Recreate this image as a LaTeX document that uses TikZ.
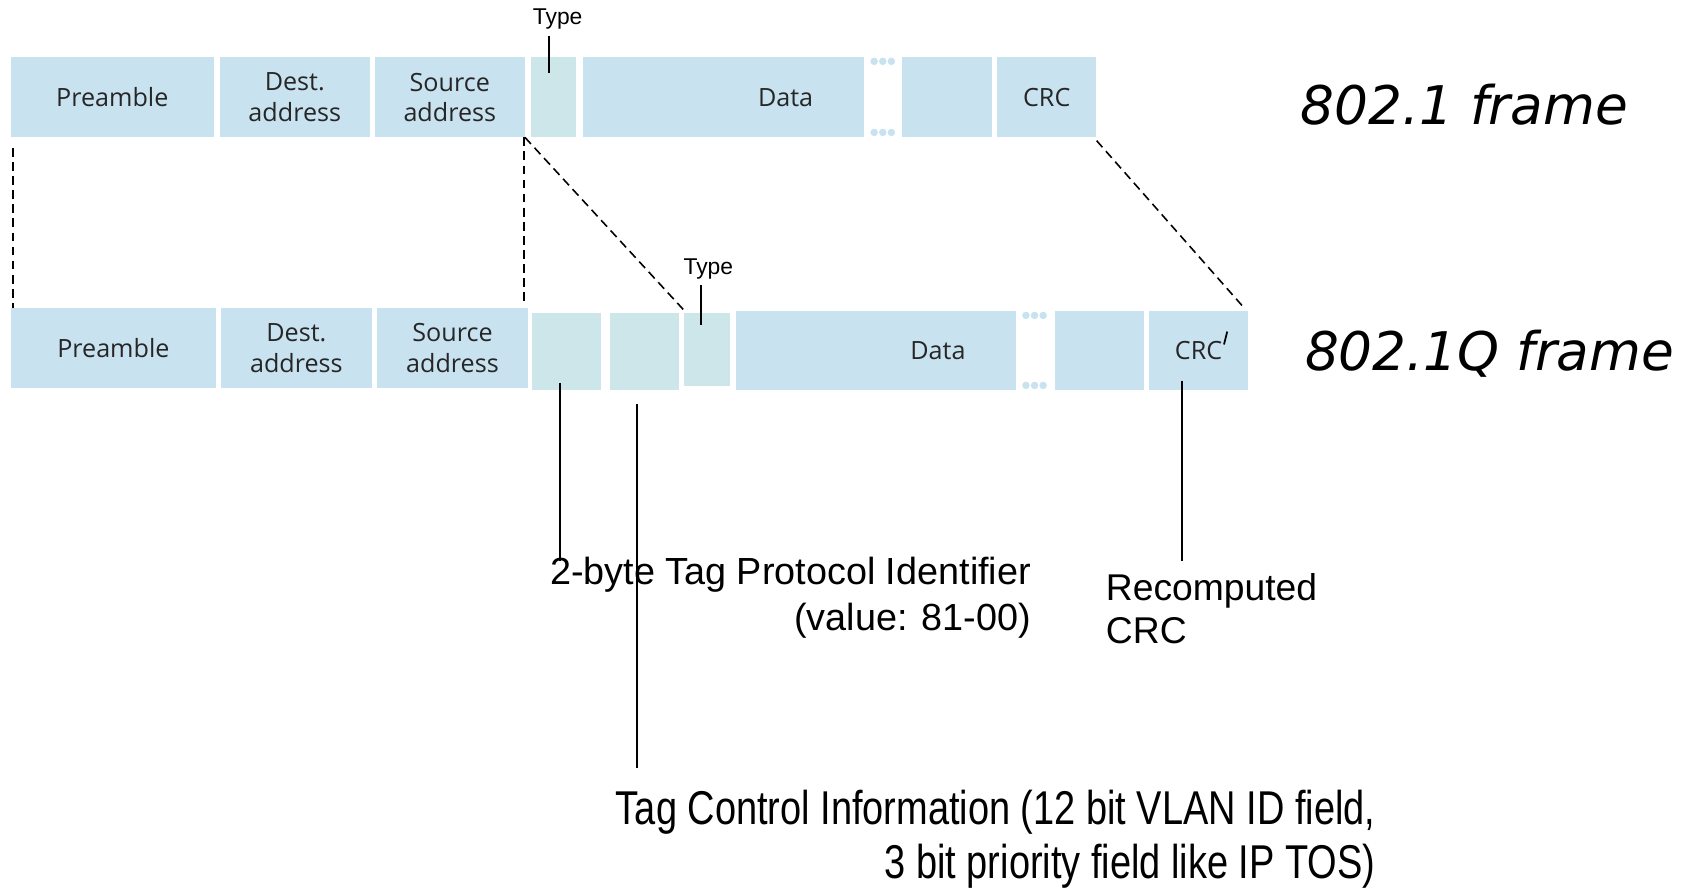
\documentclass[tikz,border=0pt]{standalone}
\usepackage{fontspec}
\usepackage{graphicx}
\newfontfamily\boxfont{Open Sans}
\newfontfamily\arialfont{Liberation Sans}
\newfontfamily\dvfont{DejaVu Sans}
\definecolor{fblue}{RGB}{201,226,240}
\definecolor{fteal}{RGB}{205,230,234}
\definecolor{ftext}{RGB}{38,38,38}
\newcommand\fld[7]{\node[#6, anchor=north west, minimum width={(#3-#2)*0.02153cm}, minimum height={(#5-#4)*0.02153cm}] (#1) at (#2,#4) {#7};}
\begin{document}
\begin{tikzpicture}[x=0.02153cm, y=-0.02153cm,
  bfld/.style={fill=fblue, draw=none, inner sep=0pt, text=ftext, align=center,
    font=\boxfont\fontsize{14.3}{17.2}\selectfont},
  tfld/.style={bfld, fill=fteal},
  typelbl/.style={inner sep=0pt, font=\arialfont\fontsize{13}{15}\selectfont},
  ttl/.style={inner sep=0pt, anchor=base west, font=\dvfont\itshape\fontsize{30.3}{36}\selectfont},
  note/.style={inner sep=0pt, font=\arialfont\fontsize{21.5}{26.3}\selectfont},
  lead/.style={line width=1.2pt, black},
  dsh/.style={line width=0.9pt, black, dash pattern=on 5pt off 3pt},
  dotc/.style={fill=fblue}]
\useasboundingbox (0,0) rectangle (1568,824);

% ---- 802.1 frame ----
\fld{pre1}{10}{198}{53}{127}{bfld}{Preamble}
\fld{dst1}{204}{343}{53}{127}{bfld}{Dest.\\address}
\fld{src1}{348}{487}{53}{127}{bfld}{Source\\address}
\fld{typ1}{493}{535}{53}{127}{tfld}{}
\fld{dat1}{541}{802}{53}{127}{bfld}{\hspace*{71pt}Data}
\fld{ext1}{838}{921}{53}{127}{bfld}{}
\fld{crc1}{926}{1018}{53}{127}{bfld}{CRC}
\foreach \xx in {812,820,828} {
  \fill[dotc] (\xx,57) circle [radius=0.075cm];
  \fill[dotc] (\xx,123) circle [radius=0.075cm];
}
\node[typelbl, anchor=base] (typlbl1) at (518,23) {Type};
\draw[lead] ([shift={(-4,-20)}]typ1.north) -- ++(0,35);
\node[ttl] (ttl1) at (1208,116) {802.1 frame};

% ---- 802.1Q frame ----
\fld{pre2}{10}{200}{286}{360}{bfld}{Preamble}
\fld{dst2}{205}{345}{286}{360}{bfld}{Dest.\\address}
\fld{src2}{350}{490}{286}{360}{bfld}{Source\\address}
\fld{tpid}{494}{558}{290}{362}{tfld}{}
\fld{tci}{566}{630}{290}{362}{tfld}{}
\fld{typ2}{635}{678}{290}{358}{tfld}{}
\fld{dat2}{683}{943}{289}{362}{bfld}{\hspace*{71pt}Data}
\fld{ext2}{980}{1062}{289}{362}{bfld}{}
\fld{crc2}{1067}{1159}{289}{362}{bfld}{CRC}
\foreach \xx in {953,961,969} {
  \fill[dotc] (\xx,293) circle [radius=0.075cm];
  \fill[dotc] (\xx,358) circle [radius=0.075cm];
}
\draw[line width=1pt] (1137,320) -- (1140,308);
\node[typelbl, anchor=base] (typlbl2) at (658,255) {Type};
\draw[lead] ([shift={(-5.5,-25)}]typ2.north) -- ++(0,37);
\node[ttl] (ttl2) at (1212,344) {802.1Q frame};

% ---- dashed projection lines ----
\draw[dsh] ([shift={(2,10)}]pre1.south west) -- ([shift={(2,0)}]pre2.north west);
\draw[dsh] ([shift={(-1,0)}]src1.south east) -- ([shift={(-4,-6)}]src2.north east);
\draw[dsh] (src1.south east) -- ([shift={(2,0)}]typ2.north west);
\draw[dsh] ([shift={(0,3)}]crc1.south east) -- ([shift={(-4,-3)}]crc2.north east);

% ---- annotations ----
\node[note, anchor=base east] (tpidtxt) at (958,543)
  {\begin{tabular}[t]{@{}r@{}}2-byte Tag Protocol Identifier\\(value: 81-00)\end{tabular}};
\node[note, anchor=base west] (crctxt) at (1027,558)
  {\fontsize{21.2}{24.5}\selectfont\begin{tabular}[t]{@{}l@{}}Recomputed\\CRC\end{tabular}};
\node[inner sep=0pt, anchor=base east, font=\arialfont\fontsize{27}{30.5}\selectfont] (tcitxt) at (1278,766)
  {\scalebox{0.8}[1]{\begin{tabular}[t]{@{}r@{}}Tag Control Information (12 bit VLAN ID field,\\3 bit priority field like IP TOS)\end{tabular}}};

\draw[lead] ([shift={(-6,-7)}]tpid.south) -- ++(0,165);
\draw[lead] ([shift={(-7,13)}]tci.south) -- ++(0,338);
\draw[lead] ([shift={(-15,-9)}]crc2.south) -- ++(0,167);
\end{tikzpicture}
\end{document}
